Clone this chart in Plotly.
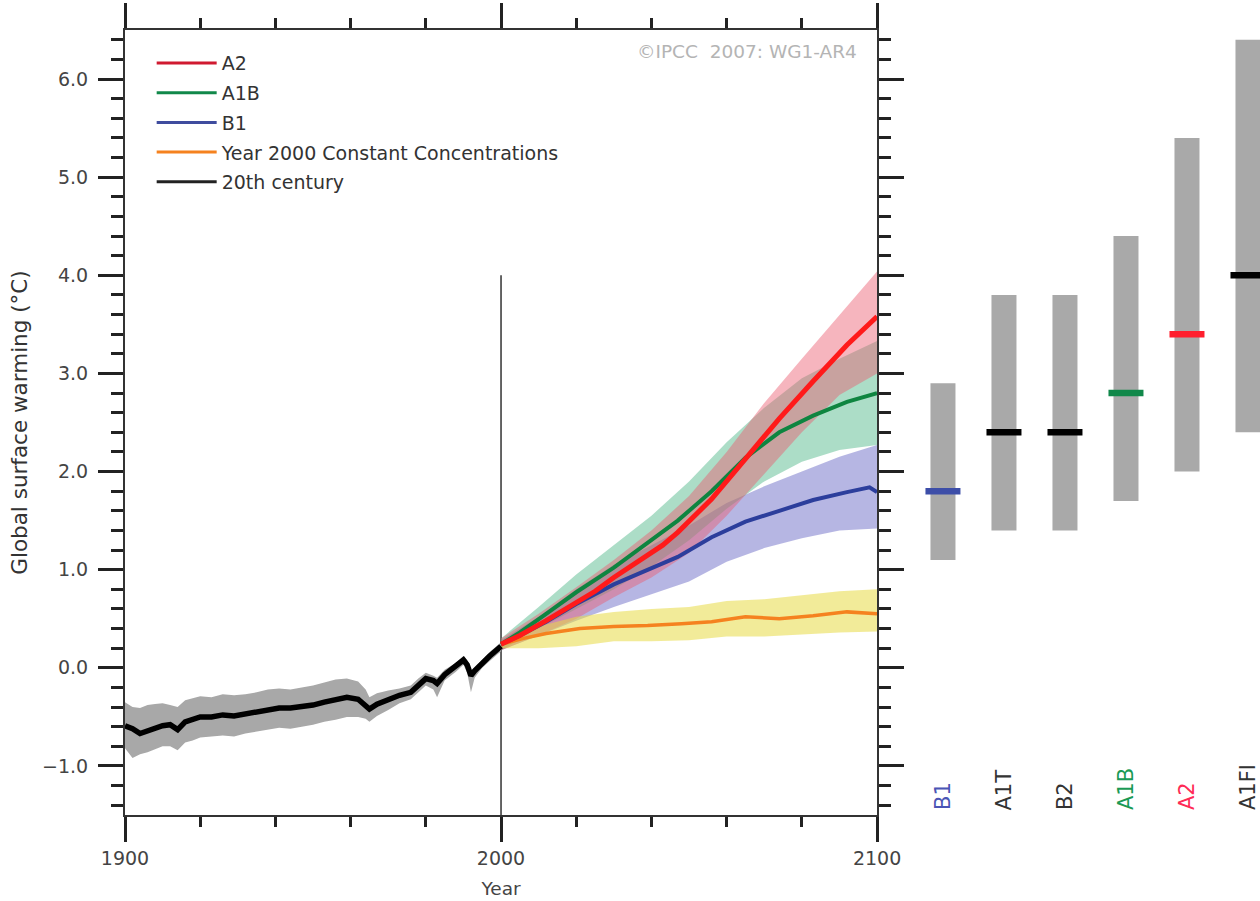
import plotly.graph_objects as go

# ---------------- data ----------------
# 20th century (observed/simulated), mean and +/- range
years20 = [1900, 1902, 1904, 1906, 1908, 1910, 1912, 1914, 1916, 1918, 1920, 1923, 1926, 1929,
           1932, 1935, 1938, 1941, 1944, 1947, 1950, 1953, 1956, 1959, 1962, 1964, 1965, 1967,
           1970, 1973, 1976, 1978, 1980, 1982, 1983, 1985, 1988, 1990, 1991, 1992, 1993, 1995,
           1997, 2000]
mean20 = [-0.59, -0.62, -0.67, -0.64, -0.61, -0.59, -0.58, -0.63, -0.55, -0.52, -0.50, -0.50,
          -0.48, -0.49, -0.47, -0.45, -0.42, -0.41, -0.41, -0.40, -0.38, -0.35, -0.32, -0.30,
          -0.32, -0.38, -0.42, -0.37, -0.32, -0.28, -0.25, -0.18, -0.11, -0.13, -0.16, -0.07,
          0.01, 0.08, 0.03, -0.08, -0.03, 0.05, 0.12, 0.22]
hi20 = [-0.35, -0.40, -0.41, -0.38, -0.37, -0.36, -0.38, -0.40, -0.33, -0.31, -0.29, -0.30,
        -0.27, -0.28, -0.27, -0.25, -0.22, -0.21, -0.22, -0.20, -0.18, -0.15, -0.12, -0.11,
        -0.14, -0.22, -0.30, -0.26, -0.23, -0.21, -0.18, -0.11, -0.05, -0.08, -0.10, -0.02,
        0.05, 0.12, 0.08, -0.03, 0.01, 0.09, 0.16, 0.26]
lo20 = [-0.82, -0.92, -0.88, -0.86, -0.83, -0.80, -0.80, -0.84, -0.76, -0.74, -0.71, -0.70,
        -0.69, -0.70, -0.67, -0.65, -0.63, -0.61, -0.62, -0.60, -0.58, -0.55, -0.53, -0.50,
        -0.50, -0.52, -0.55, -0.49, -0.43, -0.36, -0.32, -0.25, -0.18, -0.22, -0.30, -0.13,
        -0.04, 0.03, -0.05, -0.25, -0.10, 0.00, 0.07, 0.17]

# scenario mean lines
a2_years = [2000, 2005, 2012, 2020, 2025, 2030, 2038, 2043, 2047, 2052, 2056, 2065, 2074, 2083,
            2092, 2100]
a2_mean = [0.24, 0.33, 0.48, 0.66, 0.78, 0.92, 1.12, 1.25, 1.38, 1.56, 1.72, 2.13, 2.54, 2.92,
           3.29, 3.58]

a1b_years = [2000, 2005, 2012, 2020, 2030, 2038, 2047, 2056, 2065, 2074, 2083, 2092, 2100]
a1b_mean = [0.24, 0.36, 0.55, 0.77, 1.02, 1.24, 1.50, 1.80, 2.14, 2.40, 2.57, 2.71, 2.80]

b1_years = [2000, 2005, 2012, 2020, 2030, 2038, 2047, 2056, 2065, 2074, 2083, 2092, 2098, 2100]
b1_mean = [0.24, 0.33, 0.47, 0.65, 0.85, 0.98, 1.13, 1.33, 1.49, 1.60, 1.71, 1.79, 1.84, 1.79]

cc_years = [2000, 2006, 2012, 2021, 2030, 2039, 2048, 2056, 2065, 2074, 2083, 2092, 2100]
cc_mean = [0.24, 0.30, 0.35, 0.40, 0.42, 0.43, 0.45, 0.47, 0.52, 0.50, 0.53, 0.57, 0.55]

# scenario ranges (+/- 1 sd), read every decade
band_years = [2000, 2010, 2020, 2030, 2040, 2050, 2060, 2070, 2080, 2090, 2100]
a2_hi = [0.30, 0.55, 0.82, 1.10, 1.40, 1.75, 2.20, 2.70, 3.15, 3.60, 4.04]
a2_lo = [0.18, 0.33, 0.50, 0.72, 0.92, 1.17, 1.55, 1.98, 2.40, 2.78, 3.00]
a1b_hi = [0.30, 0.62, 0.95, 1.25, 1.55, 1.90, 2.30, 2.65, 2.95, 3.15, 3.33]
a1b_lo = [0.18, 0.40, 0.60, 0.80, 1.03, 1.30, 1.62, 1.90, 2.10, 2.22, 2.27]
b1_hi = [0.28, 0.52, 0.80, 1.05, 1.25, 1.45, 1.68, 1.85, 2.00, 2.15, 2.27]
b1_lo = [0.18, 0.33, 0.48, 0.62, 0.75, 0.88, 1.08, 1.22, 1.32, 1.40, 1.42]
cc_hi = [0.27, 0.42, 0.52, 0.57, 0.60, 0.62, 0.68, 0.70, 0.74, 0.78, 0.80]
cc_lo = [0.20, 0.20, 0.22, 0.27, 0.27, 0.28, 0.32, 0.32, 0.34, 0.36, 0.37]

# likely ranges at 2090-2099 (right panel)
scen_names = ["B1", "A1T", "B2", "A1B", "A2", "A1FI"]
scen_best = [1.8, 2.4, 2.4, 2.8, 3.4, 4.0]
scen_low = [1.1, 1.4, 1.4, 1.7, 2.0, 2.4]
scen_high = [2.9, 3.8, 3.8, 4.4, 5.4, 6.4]
scen_colors = ["#3d4ea8", "#000000", "#000000", "#11884a", "#ff1f2e", "#000000"]
label_colors = ["#4a55b5", "#333333", "#333333", "#1a9a55", "#ff2a55", "#333333"]

legend_names = ["A2", "A1B", "B1", "Year 2000 Constant Concentrations", "20th century"]
legend_colors = ["#d01a30", "#11884a", "#3f4c9e", "#f5821f", "#222222"]

# ---------------- style ----------------
FONT = "DejaVu Sans, Verdana, sans-serif"
Y_RANGE = [-1.5, 6.5]
X_RANGE = [1900, 2100]
DIVIDER_YEAR = 2000
DIVIDER_TOP = 4.0

fig = go.Figure()


def band(x, lo, hi, color):
    xs = list(x) + list(x)[::-1]
    ys = list(hi) + list(lo)[::-1]
    return go.Scatter(x=xs, y=ys, fill="toself", fillcolor=color, mode="lines",
                      line=dict(width=0, color=color), showlegend=False, hoverinfo="skip")


fig.add_trace(band(years20, lo20, hi20, "#a8a8a8"))
fig.add_trace(band(band_years, b1_lo, b1_hi, "rgba(110,110,200,0.5)"))
fig.add_trace(band(band_years, a1b_lo, a1b_hi, "rgba(70,180,130,0.45)"))
fig.add_trace(band(band_years, a2_lo, a2_hi, "rgba(235,90,110,0.45)"))
fig.add_trace(band(band_years, cc_lo, cc_hi, "rgba(232,218,70,0.55)"))


def line(x, y, color, width):
    return go.Scatter(x=x, y=y, mode="lines", line=dict(color=color, width=width),
                      showlegend=False, hoverinfo="skip")


fig.add_trace(line(years20, mean20, "#000000", 5.5))
fig.add_trace(line(cc_years, cc_mean, "#f5821f", 3.5))
fig.add_trace(line(b1_years, b1_mean, "#2c3e9c", 4))
fig.add_trace(line(a1b_years, a1b_mean, "#0e8540", 4))
fig.add_trace(line(a2_years, a2_mean, "#ff1a1a", 5))

# legend entries
for i, (nm, col) in enumerate(zip(legend_names, legend_colors)):
    fig.add_trace(go.Scatter(x=[None], y=[None], mode="lines", name=nm,
                             line=dict(color=col, width=3), legendgroup=f"g{i}",
                             showlegend=True))

# right panel
idx = list(range(len(scen_names)))
fig.add_trace(go.Bar(x=idx, y=[h - l for h, l in zip(scen_high, scen_low)], base=scen_low,
                     width=0.41, marker=dict(color="#a9a9a9", line=dict(width=0)),
                     xaxis="x2", yaxis="y2", showlegend=False, hoverinfo="skip"))
fig.add_trace(go.Scatter(x=idx, y=scen_best, mode="markers", xaxis="x2", yaxis="y2",
                         marker=dict(symbol="line-ew", size=25,
                                     line=dict(width=6.5, color=scen_colors)),
                         showlegend=False, hoverinfo="skip"))

annotations = []
for i, (nm, col) in enumerate(zip(scen_names, label_colors)):
    annotations.append(dict(x=i, y=Y_RANGE[0] + 0.03, xref="x2", yref="y2", text=nm,
                            showarrow=False, textangle=-90, xanchor="center",
                            yanchor="bottom", font=dict(family=FONT, size=21, color=col)))
annotations.append(dict(x=0.647, y=0.972, xref="paper", yref="paper",
                        text="©IPCC&nbsp;&nbsp;2007: WG1-AR4", showarrow=False,
                        xanchor="right", yanchor="middle",
                        font=dict(family=FONT, size=18.5, color="#b4b4b4")))

axis_common = dict(showgrid=False, zeroline=False, showline=True, linecolor="#333333",
                   linewidth=2, ticks="outside", tickcolor="#222222", tickwidth=2.5,
                   mirror="ticks")

fig.update_layout(
    width=1260, height=901, autosize=False,
    margin=dict(l=125, r=0, t=30, b=86, autoexpand=False),
    paper_bgcolor="white", plot_bgcolor="white",
    font=dict(family=FONT, size=18, color="#444444"),
    barmode="overlay",
    xaxis=dict(domain=[0, 0.6626], range=X_RANGE, tickvals=[1900, 2000, 2100],
               ticklen=25, tickfont=dict(size=19, color="#444444"),
               minor=dict(dtick=20, tick0=1900, ticklen=10, tickwidth=2.5,
                          tickcolor="#222222", ticks="outside", showgrid=False),
               title=dict(text="Year", font=dict(size=18.5, color="#444444"), standoff=14),
               anchor="y", **axis_common),
    yaxis=dict(domain=[0, 1], range=Y_RANGE, tick0=0, dtick=1, tickformat=".1f",
               ticklen=25, tickfont=dict(size=19, color="#444444"), ticklabelstandoff=6,
               minor=dict(dtick=0.2, tick0=0, ticklen=12, tickwidth=2.5,
                          tickcolor="#222222", ticks="outside", showgrid=False),
               title=dict(text="Global surface warming (°C)",
                          font=dict(size=21.5, color="#333333"), standoff=9),
               anchor="x", **axis_common),
    xaxis2=dict(domain=[0.6938, 1.0], range=[-0.5, 5.197], visible=False, anchor="y2"),
    yaxis2=dict(domain=[0, 1], range=Y_RANGE, visible=False, anchor="x2"),
    legend=dict(x=0.0235, y=0.982, xanchor="left", yanchor="top", bgcolor="rgba(0,0,0,0)",
                font=dict(family=FONT, size=19, color="#333333"), traceorder="grouped",
                tracegroupgap=2, itemwidth=60),
    showlegend=True,
    annotations=annotations,
    shapes=[dict(type="line", xref="x", yref="y", x0=DIVIDER_YEAR, x1=DIVIDER_YEAR,
                 y0=Y_RANGE[0], y1=DIVIDER_TOP, layer="below",
                 line=dict(color="#333333", width=1.5))],
)

fig.write_html("out.html", config={"responsive": False})
